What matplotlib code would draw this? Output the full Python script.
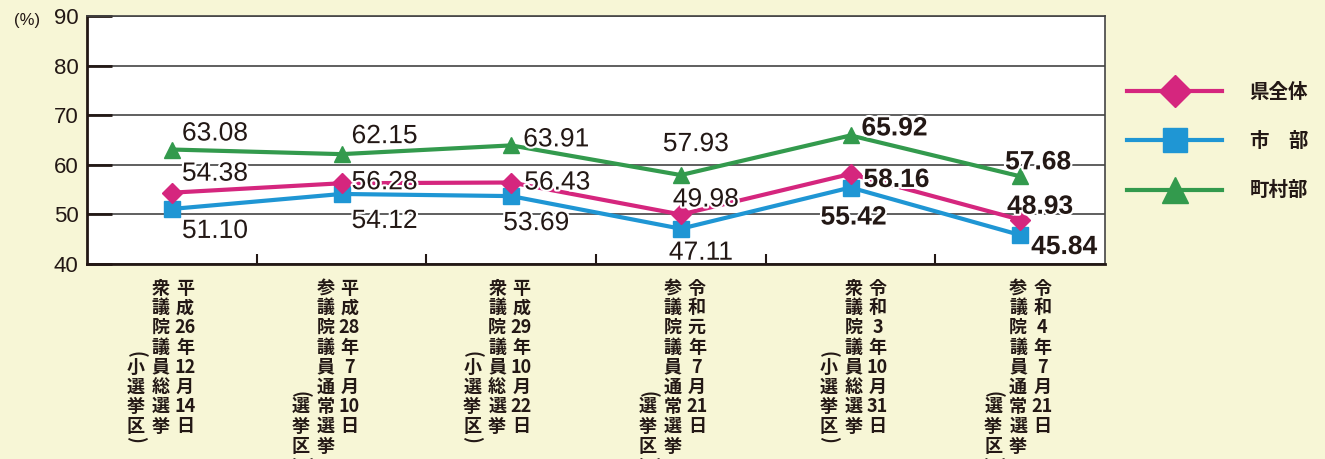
import re

import matplotlib.pyplot as plt
import matplotlib.patheffects as pe
from matplotlib.lines import Line2D

# data
dates = ['平成26年12月14日', '平成28年7月10日', '平成29年10月22日',
         '令和元年7月21日', '令和3年10月31日', '令和4年7月21日']
elections = ['衆議院議員総選挙', '参議院議員通常選挙', '衆議院議員総選挙',
             '参議院議員通常選挙', '衆議院議員総選挙', '参議院議員通常選挙']
districts = ['小選挙区', '選挙区', '小選挙区', '選挙区', '小選挙区', '選挙区']
series_names = ['県全体', '市\u3000部', '町村部']
pref_total = [54.38, 56.28, 56.43, 49.98, 58.16, 48.93]
city = [51.10, 54.12, 53.69, 47.11, 55.42, 45.84]
town_village = [63.08, 62.15, 63.91, 57.93, 65.92, 57.68]
y_ticks = [40, 50, 60, 70, 80, 90]

# styling
BG = '#f7f6d6'
INK = '#231815'
colors = ['#d5267e', '#1f96d4', '#339a4d']
markers = ['D', 's', '^']
msizes = [10, 11, 12]
CJK = ['Noto Sans CJK JP', 'DejaVu Sans']
NUM = ['Liberation Sans', 'DejaVu Sans']

# label offsets in pixels (dx, dy up) per series per category
lab_off = [
    [(43, 19), (43, 1), (46, 0), (25, 15), (46, -6), (20, 13)],
    [(43, -22), (43, -27), (25, -27), (20, -24), (3, -30), (44, -12)],
    [(43, 16), (43, 18), (45, 6), (15, 31), (44, 7), (18, 14)],
]
col_shift = [13, 8, 10, 16, 27, 22]

fig = plt.figure(figsize=(13.25, 4.59), dpi=100, facecolor=BG)
ax = fig.add_axes([87 / 1325, 1 - 264 / 459, (1105 - 87) / 1325, (264 - 16) / 459])
ax.set_facecolor('white')

x = list(range(len(dates)))
series = [pref_total, city, town_village]
handles = []
for k, vals in enumerate(series):
    ax.plot(x, vals, color=colors[k], lw=3, marker=markers[k], ms=msizes[k],
            mec=colors[k], zorder=3 + (2 - k) * 0.1)
    handles.append(Line2D([], [], color=colors[k], lw=3, marker=markers[k],
                          ms=msizes[k] * 1.6, mec=colors[k]))
    for i, v in enumerate(vals):
        dx, dy = lab_off[k][i]
        ax.annotate(f'{v:.2f}', xy=(i, v), xytext=(dx, dy), textcoords='offset pixels',
                    ha='center', va='center', fontsize=19, family=NUM,
                    weight='bold' if i >= 4 else 'normal', color=INK, zorder=6,
                    path_effects=[pe.withStroke(linewidth=3, foreground='white')])

ax.set_xlim(-0.5, len(dates) - 0.5)
ax.set_ylim(40, 90)
ax.set_yticks(y_ticks)
ax.set_yticklabels([str(t) for t in y_ticks], fontsize=16, family='Liberation Sans', color=INK)
ax.yaxis.grid(True, color='#444444', lw=1.2)
ax.set_axisbelow(True)
ax.tick_params(axis='y', direction='in', length=18, width=2, color=INK, pad=6)
ax.set_xticks([i + 0.5 for i in x[:-1]])
ax.set_xticklabels([])
ax.tick_params(axis='x', direction='in', length=7, width=1.5, color=INK)
for s in ax.spines.values():
    s.set_color(INK)
    s.set_linewidth(2)
ax.spines['top'].set_linewidth(1.2)
ax.spines['top'].set_color('#444444')
ax.spines['right'].set_linewidth(1.2)
ax.spines['right'].set_color('#444444')

fig.text(14 / 1325, 1 - 21 / 459, '(%)', fontsize=12, family='Liberation Sans',
         color=INK, va='center')

# vertical category labels
step, top = 19.8, 24
for i in x:
    sx = col_shift[i]
    date_tok = re.findall(r'\d+|.', dates[i])
    for r, t in enumerate(date_tok):
        ax.annotate(t, xy=(i, 0), xycoords=('data', 'axes fraction'),
                    xytext=(sx, -(top + r * step)), textcoords='offset pixels',
                    ha='center', va='center', fontsize=13, family=CJK,
                    weight='bold', color=INK, annotation_clip=False)
    el = list(elections[i])
    for r, t in enumerate(el):
        ax.annotate(t, xy=(i, 0), xycoords=('data', 'axes fraction'),
                    xytext=(sx - 24, -(top + r * step)), textcoords='offset pixels',
                    ha='center', va='center', fontsize=13, family=CJK,
                    weight='bold', color=INK, annotation_clip=False)
    d = list(districts[i])
    r0 = len(el) - len(d)
    for r, t in enumerate(d):
        ax.annotate(t, xy=(i, 0), xycoords=('data', 'axes fraction'),
                    xytext=(sx - 49, -(top + (r0 + r) * step)), textcoords='offset pixels',
                    ha='center', va='center', fontsize=13, family=CJK,
                    weight='bold', color=INK, annotation_clip=False)
    for r, t in [(r0 - 0.65, '('), (len(el) - 1 + 0.65, ')')]:
        ax.annotate(t, xy=(i, 0), xycoords=('data', 'axes fraction'),
                    xytext=(sx - 49, -(top + r * step)), textcoords='offset pixels',
                    ha='center', va='center', fontsize=13, family=CJK, rotation=-90,
                    rotation_mode='anchor', weight='bold', color=INK,
                    annotation_clip=False)

leg = fig.legend(handles, series_names, loc='upper left',
                 bbox_to_anchor=(1127 / 1325, 1 - 83 / 459), frameon=False,
                 prop={'family': CJK, 'size': 14, 'weight': 'bold'},
                 handlelength=4.9, handletextpad=1.4, labelspacing=1.55,
                 borderpad=0, borderaxespad=0)
for t in leg.get_texts():
    t.set_color(INK)

fig.savefig('out.png', dpi=100, facecolor=BG)
